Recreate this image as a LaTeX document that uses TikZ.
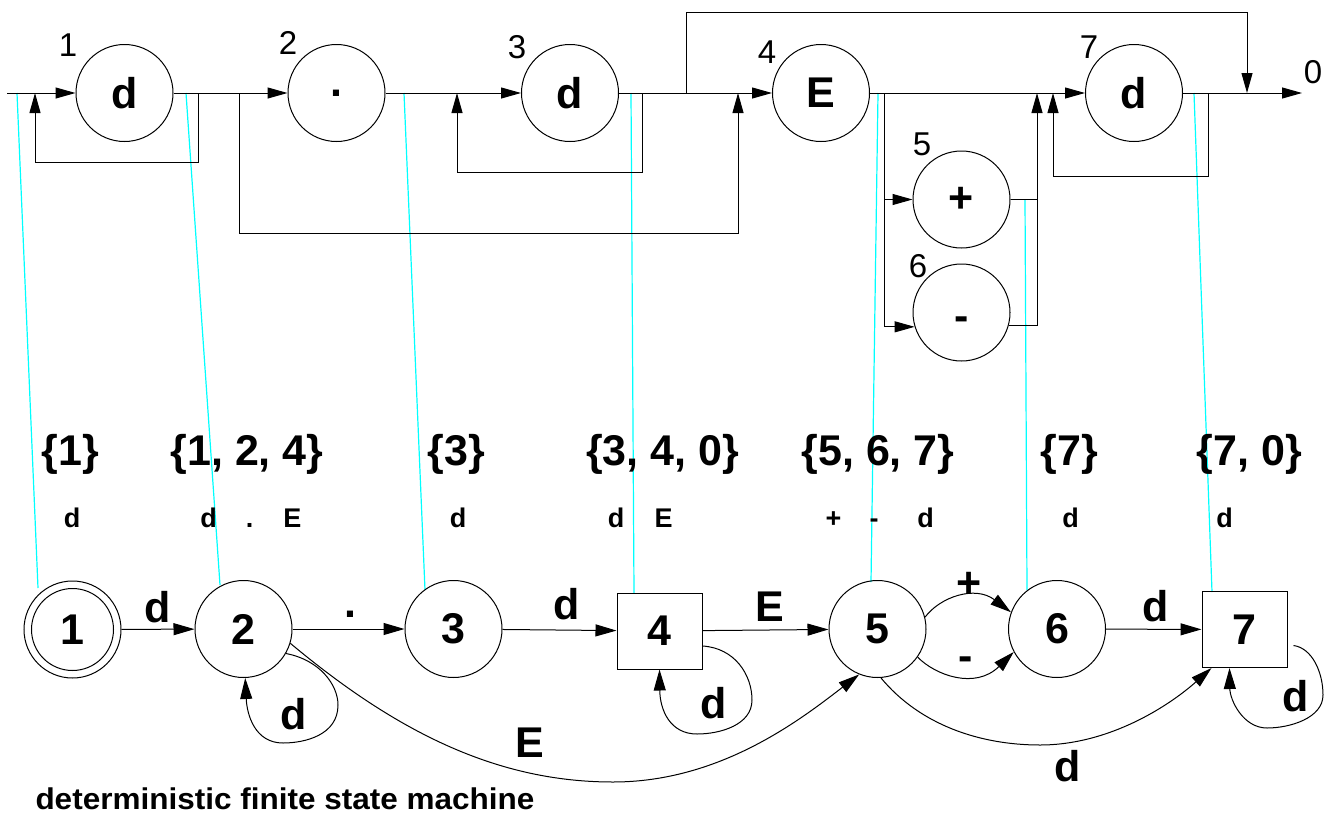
\documentclass[tikz,border=0pt]{standalone}
\usepackage{fontspec}
\setmainfont{Liberation Sans}
\usetikzlibrary{arrows.meta}
\definecolor{projcyan}{RGB}{0,255,255}
\newcommand*\fntBig{\fontsize{43pt}{43pt}\selectfont\bfseries}
\newcommand*\fntRow{\fontsize{27pt}{27pt}\selectfont\bfseries}
\newcommand*\fntNum{\fontsize{33pt}{33pt}\selectfont}
\newcommand*\fntCap{\fontsize{30pt}{30pt}\selectfont\bfseries}
\tikzset{
  every path/.style={line width=1pt},
  >={Triangle[length=20pt,width=11pt]},
  tc/.style={circle,draw,minimum size=97pt,inner sep=0pt,font=\fntBig},
  bc/.style={circle,draw,minimum size=97pt,inner sep=0pt,font=\fntBig},
  bsq/.style={rectangle,draw,minimum width=85pt,minimum height=76pt,inner sep=0pt,font=\fntBig},
  num/.style={font=\fntNum,inner sep=0pt},
  big/.style={font=\fntBig,inner sep=0pt},
  row/.style={font=\fntRow,inner sep=0pt,anchor=base},
  proj/.style={draw=projcyan,line width=1.2pt},
}
\begin{document}
\begin{tikzpicture}[x=1pt,y=-1pt]
\useasboundingbox (0,0) rectangle (1333,814);

% ---------- top: regular-expression diagram ----------
\node[tc] (c1) at (124.5,93) {d};
\node[tc] (c2) at (336.5,93) {.};
\node[tc] (c3) at (570,93) {d};
\node[tc] (c4) at (821,93) {E};
\node[tc] (c5) at (961.5,199.5) {+};
\node[tc] (c6) at (961.5,312.5) {\raisebox{-18pt}[0pt][0pt]{-}};
\node[tc] (c7) at (1134,93) {d};

\node[num] (n1) at (68,45) {1};
\node[num] (n2) at (288,43) {2};
\node[num] (n3) at (517,47) {3};
\node[num] (n4) at (767,52) {4};
\node[num] (n5) at (922,144) {5};
\node[num] (n6) at (918,266) {6};
\node[num] (n7) at (1089,47) {7};
\node[num] (n0) at (1313,72) {0};

\coordinate (in) at (7,93);
\coordinate (j1) at (198,93);
\coordinate (m1) at (35,93);
\coordinate (j2) at (239,93);
\coordinate (m2) at (738,93);
\coordinate (j3) at (642,93);
\coordinate (m3) at (457,93);
\coordinate (j4) at (686,93);
\coordinate (m4) at (1247,93);
\coordinate (j5) at (884,93);
\coordinate (k5) at (1037,93);
\coordinate (j7) at (1208,93);
\coordinate (m7) at (1053,93);
\coordinate (out) at (1302,93);

% cyan projection lines
\coordinate (pa) at (17,93);   \coordinate (qa) at (38,588);
\coordinate (pb) at (186,93);  \coordinate (qb) at (220,585);
\coordinate (pc) at (404,93);  \coordinate (qc) at (425,590);
\coordinate (pd) at (631,93);  \coordinate (qd) at (634,593);
\coordinate (pe) at (878,93);  \coordinate (qe) at (871,582);
\coordinate (pf) at (1025,199);\coordinate (qf) at (1027,590);
\coordinate (pg) at (1194,93); \coordinate (qg) at (1212,592);
\foreach \a in {a,b,c,d,e,f,g} {\path[proj] (p\a) -- (q\a);}

\draw[->] (in) -- (c1);
\draw[->] (j1) -- ++(0,69) -| (m1);
\draw[->] (c1) -- (c2);
\draw[->] (j2) -- ++(0,140) -| (m2);
\draw[->] (c2) -- (c3);
\draw[->] (j3) -- ++(0,79) -| (m3);
\draw[->] (c3) -- (c4);
\draw[->] (j4) -- ++(0,-81) -| (m4);
\draw[->] (c4) -- (c7);
\draw[->] (j5) |- (c6.197);
\draw[->] (j5 |- c5.west) -- (c5.west);
\draw[->] (c6.-15) -| (k5);
\draw (c5.east) -- (c5.east -| k5);
\draw[->] (j7) -- ++(0,83) -| (m7);
\draw[->] (c7) -- (out);

% ---------- middle: state sets ----------
\node[big] (s1) at (70.5,454) {\{1\}};
\node[big] (s2) at (247,454) {\{1, 2, 4\}};
\node[big] (s3) at (456.5,454) {\{3\}};
\node[big] (s4) at (662.5,454) {\{3, 4, 0\}};
\node[big] (s5) at (878,454) {\{5, 6, 7\}};
\node[big] (s6) at (1069.5,454) {\{7\}};
\node[big] (s7) at (1249.5,454) {\{7, 0\}};

\node[row] (r1) at (72,527) {d};
\node[row] (r2a) at (208.5,527) {d};
\node[row] (r2b) at (249.5,527) {.};
\node[row] (r2c) at (292.5,527) {E};
\node[row] (r3) at (458,527) {d};
\node[row] (r4a) at (616,527) {d};
\node[row] (r4b) at (663.5,527) {E};
\node[row] (r5a) at (833.5,527) {+};
\node[row] (r5b) at (874,527) {-};
\node[row] (r5c) at (925.5,527) {d};
\node[row] (r6) at (1070.5,527) {d};
\node[row] (r7) at (1224.5,527) {d};

% ---------- bottom: deterministic machine ----------
\tikzset{>={Triangle[length=21pt,width=12pt]}}
\node[bc] (b1) at (72.5,629.5) {1};
\draw (b1.center) circle[radius=41];
\node[bc] (b2) at (243.5,629) {2};
\node[bc] (b3) at (453.5,629) {3};
\node[bsq] (b4) at (659.5,631) {4};
\node[bc] (b5) at (877.5,629) {5};
\node[bc] (b6) at (1057,629) {6};
\node[bsq] (b7) at (1244.5,629.5) {7};

\draw[->] (b1) -- (b2);
\draw[->] (b2) -- (b3);
\draw[->] (b3) -- (b4);
\draw[->] (b4) -- (b5);
\draw[->] (b6) -- (b7);

\draw[->] (b2.-30) .. controls (320,660) and (338,685) .. (338,705)
  .. controls (338,735) and (305,743) .. (283,743)
  .. controls (255,743) and (247,715) .. (b2.-88);
\draw[->] ([yshift=-15pt]b4.east) .. controls (735,648) and (752,675) .. (752,700)
  .. controls (752,725) and (720,734) .. (697,734)
  .. controls (670,734) and (660,710) .. (b4.south);
\draw[->] ([xshift=6pt,yshift=-16pt]b7.east) .. controls (1312,648) and (1323,672) .. (1323,695)
  .. controls (1323,718) and (1290,728) .. (1267,728)
  .. controls (1243,728) and (1230,700) .. ([xshift=-15pt]b7.south);

\draw[->] (b2.-17) .. controls (400,735) and (500,782) .. (613,782)
  .. controls (720,782) and (800,720) .. (b5.-112);
\draw[->] (b5.-86) .. controls (920,725) and (980,745) .. (1040,745)
  .. controls (1110,745) and (1170,705) .. ([xshift=10pt]b7.south west);
\draw[->] (b5.14) .. controls (940,597) and (975,585) .. (b6.160);
\draw[->] (b5.-35) .. controls (935,675) and (975,690) .. (b6.208);

\node[big] (l12) at (158,607) {d};
\node[big,anchor=base] (l23) at (350,617) {.};
\node[big] (l34) at (567,604) {d};
\node[big] (l45) at (770,607) {E};
\node[big] (l25) at (530,743) {E};
\node[big] (l22) at (294,714) {d};
\node[big] (l44) at (714,703) {d};
\node[big,anchor=base] (l56p) at (969,597) {+};
\node[big,anchor=base] (l56m) at (966,670) {-};
\node[big] (l67) at (1156,606) {d};
\node[big] (l77) at (1296,696) {d};
\node[big] (l57) at (1068,766) {d};

\node[anchor=base west,inner sep=0pt,font=\fntCap] (cap) at (35,809)
  {\scalebox{1.05}[1]{deterministic finite state machine}};
\end{tikzpicture}
\end{document}
